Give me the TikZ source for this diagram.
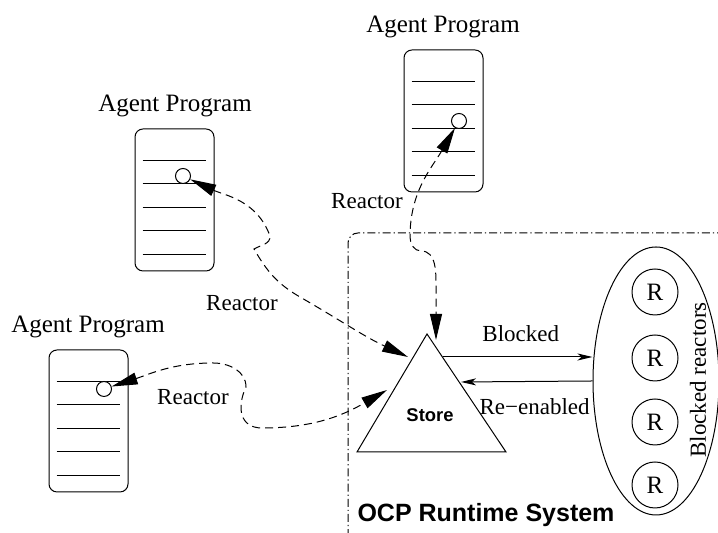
\documentclass[tikz,border=0pt]{standalone}
\usepackage{fontspec}
\setmainfont{Liberation Serif}
\setsansfont{Liberation Sans}
\usepackage{tikz}
\usetikzlibrary{arrows.meta,shapes.geometric}

\tikzset{
 prog/.style = {draw, rounded corners = 4pt, minimum width = 39.5pt, minimum height = 71pt, inner sep = 0pt},
 hook/.style = {draw, circle, minimum size = 7.5pt, inner sep = 0pt},
 rr/.style = {draw, circle, minimum size = 23pt, inner sep = 0pt, font = \fontsize{12.5}{14}\selectfont},
 reactor/.style = {dash pattern = on 4pt off 2.5pt, {Triangle[length = 13pt, width = 6pt]}-{Triangle[length = 13pt, width = 6pt]}},
 flow/.style = {-{Stealth[length = 7.5pt, width = 3.5pt, inset = 2pt]}},
 lbl/.style = {font = \fontsize{11.5}{13}\selectfont},
 ttl/.style = {font = \fontsize{12.5}{14}\selectfont}
}

\begin{document}
\begin{tikzpicture}[x = 0.5pt, y = 0.5pt, line width = 0.5pt]
\useasboundingbox (0,0) rectangle (718,533);
\node[prog] (b1) at (174.5,333) {};
\node[prog] (b2) at (443.5,412) {};
\node[prog] (b3) at (88.5,112) {};
\foreach \b in {b1,b2,b3}
 \foreach \i in {0,...,4}
  \draw ([shift = {(4pt,-16pt-11.75pt*\i)}]\b.north west) -- ++(31.5pt,0);
\node[ttl] (t1) at (175,427) {Agent Program};
\node[ttl] (t2) at (443,506) {Agent Program};
\node[ttl] (t3) at (88,206) {Agent Program};
\node[hook, fill = white] (c1) at (183,357) {};
\node[hook, fill = white] (c2) at (459,412) {};
\node[hook, fill = white] (c3) at (104,144) {};

\draw[dash pattern = on 4pt off 1.5pt on 0.6pt off 1.5pt, rounded corners = 5pt] (725,300) -- (348,300) -- (348,-5);
\node[font = \sffamily\bfseries\fontsize{12.5}{14}\selectfont] (ocp) at (486,18) {OCP Runtime System};

\coordinate (apex) at (427,199);
\coordinate (bl) at (357,81);
\coordinate (br) at (506,81);
\draw (apex) -- (bl) -- (br) -- cycle;
\node[font = \sffamily\bfseries\fontsize{9.2}{11}\selectfont] (store) at (430,118) {Store};
\coordinate (sa) at (436,193);
\coordinate (sb) at (408,176);
\coordinate (sc) at (387,143);
\coordinate (blo) at (443,176);
\coordinate (ren) at (461,151);

\node[draw, ellipse, minimum width = 63pt, minimum height = 134pt, inner sep = 0pt] (blk) at (656,152) {};
\foreach \y/\n in {241/1,175/2,111/3,48/4}
 \node[rr] (r\n) at (655,\y) {R};
\node[lbl, rotate = 90] (blkl) at (698,153) {Blocked reactors};

\draw[flow] (blo) -- (blo -| blk.west) node[pos = 0.52, above = 4pt, lbl] {Blocked};
\draw[flow] (blk.west) -- (ren) node[pos = 0.44, below = 5pt, lbl] {Re−enabled};

\draw[reactor] (c2) to[out = -120, in = 90] (410,296) to[out = -90, in = 180] (421,282) to[out = 0, in = 90] (436,245) -- (sa);
\draw[reactor] (c1) to[out = -25, in = 110] (270,297) to[out = -85, in = 30] (254,284) to[out = -60, in = 150] (300,236) to[out = -30, in = 155] (sb);
\draw[reactor] (c3) to[out = 18, in = 180] (213,170) to[out = 0, in = 90] (246,146) to[out = -115, in = 180, looseness = 1.3] (262,105) to[out = 0, in = -150] (sc);
\node[lbl] (ra) at (367,332) {Reactor};
\node[lbl] (rb) at (242,230) {Reactor};
\node[lbl] (rc) at (193,136) {Reactor};
\end{tikzpicture}
\end{document}
